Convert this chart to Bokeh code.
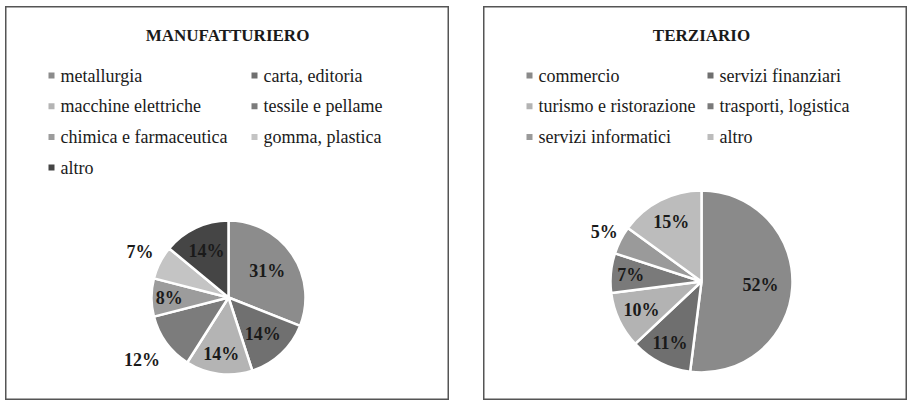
import math
from bokeh.plotting import figure
from bokeh.layouts import row
from bokeh.models import Range1d, ColumnDataSource
from bokeh.core.properties import value
from bokeh.embed import file_html
from bokeh.resources import INLINE

# ---- data ----
man_title = "MANUFATTURIERO"
man_categories = ["metallurgia", "carta, editoria", "macchine elettriche",
                  "tessile e pellame", "chimica e farmaceutica",
                  "gomma, plastica", "altro"]
man_values = [31, 14, 14, 12, 8, 7, 14]

ter_title = "TERZIARIO"
ter_categories = ["commercio", "servizi finanziari", "turismo e ristorazione",
                  "trasporti, logistica", "servizi informatici", "altro"]
ter_values = [52, 11, 10, 7, 5, 15]

# ---- styles ----
man_colors = ["#8c8c8c", "#707070", "#b4b4b4", "#7c7c7c", "#9c9c9c", "#c4c4c4", "#454545"]
ter_colors = ["#8a8a8a", "#6f6f6f", "#b3b3b3", "#7a7a7a", "#9a9a9a", "#bcbcbc"]
man_label_r = [0.61, 0.65, 0.74, 1.39, 0.77, 1.29, 0.67]
ter_label_r = [0.65, 0.76, 0.73, 0.78, 1.20, 0.73]

FONT = "Liberation Serif"
H = 394


def make_panel(title, cats, vals, colors, label_r, W, cx, cy_top, r,
               title_x, col_x, row_top0, row_step):
    # positions given from panel's top-left; convert to y-up coordinates
    cy = H - cy_top
    p = figure(width=W, height=H, output_backend="svg", toolbar_location=None,
               x_range=Range1d(0, W), y_range=Range1d(0, H),
               x_axis_location=None, y_axis_location=None, min_border=0,
               background_fill_color="white", border_fill_color="white")
    p.grid.visible = False
    p.outline_line_color = "#555555"
    p.outline_line_width = 2

    total = float(sum(vals))
    starts, ends, lx, ly, labels = [], [], [], [], []
    c = 0.0
    for v, k in zip(vals, label_r):
        a0 = math.pi / 2 - 2 * math.pi * c / total
        a1 = math.pi / 2 - 2 * math.pi * (c + v) / total
        starts.append(a0)
        ends.append(a1)
        m = math.pi / 2 - 2 * math.pi * (c + v / 2) / total
        lx.append(cx + k * r * math.cos(m))
        ly.append(cy + k * r * math.sin(m))
        labels.append(f"{v}%")
        c += v

    src = ColumnDataSource(dict(start=starts, end=ends, color=colors,
                                lx=lx, ly=ly, label=labels))
    p.wedge(x=cx, y=cy, radius=r, start_angle="start", end_angle="end",
            direction="clock", fill_color="color", line_color="white",
            line_width=2.5, source=src)
    p.text(x="lx", y="ly", text="label", source=src,
           text_font=value(FONT), text_font_style="bold", text_font_size="18px",
           text_color="#1a1a1a", text_align="center", text_baseline="middle")

    # title
    p.text(x=[title_x], y=[H - 29], text=[title], text_font=value(FONT),
           text_font_style="bold", text_font_size="17px", text_color="#1a1a1a",
           text_align="center", text_baseline="middle")

    # legend (two columns)
    mx, my, tx, ty = [], [], [], []
    for i, name in enumerate(cats):
        col, rw = i % 2, i // 2
        yy = H - (row_top0 + rw * row_step)
        mx.append(col_x[col])
        my.append(yy)
        tx.append(col_x[col] + 9)
        ty.append(yy)
    p.scatter(x=mx, y=my, marker="square", size=6, fill_color=colors,
              line_color=None)
    p.text(x=tx, y=ty, text=list(cats), text_font=value(FONT),
           text_font_size="18px", text_color="#1a1a1a",
           text_align="left", text_baseline="middle")
    return p


p1 = make_panel(man_title, man_categories, man_values, man_colors, man_label_r,
                W=444, cx=223, cy_top=291, r=77, title_x=222,
                col_x=[46, 249], row_top0=69, row_step=30.7)
p2 = make_panel(ter_title, ter_categories, ter_values, ter_colors, ter_label_r,
                W=424, cx=218, cy_top=275, r=91, title_x=218,
                col_x=[46, 227], row_top0=69, row_step=30.7)

layout = row(p1, p2, spacing=34, margin=(6, 0, 0, 5))
open("out.html", "w").write(file_html(layout, INLINE))
